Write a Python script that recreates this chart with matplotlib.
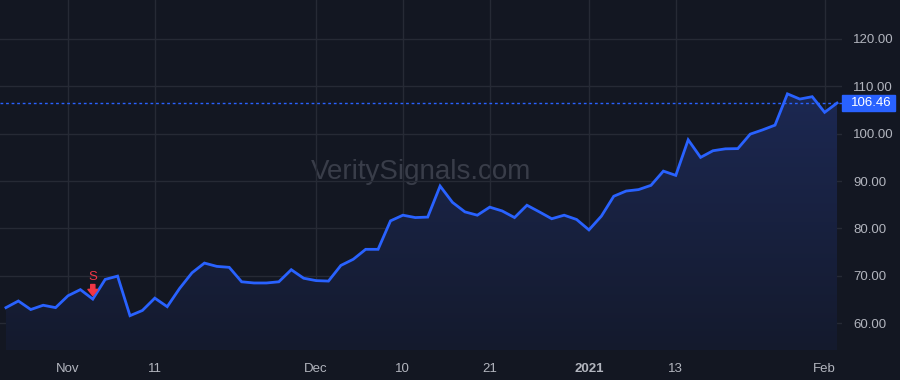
import matplotlib
matplotlib.use("Agg")
import matplotlib.pyplot as plt
import numpy as np
from matplotlib.colors import LinearSegmentedColormap
from matplotlib.patches import Rectangle
from matplotlib.transforms import blended_transform_factory

plt.rcParams['font.family'] = ['Liberation Sans', 'DejaVu Sans']

# daily closes, 2020-10-26 .. 2021-02-02 (trading days)
closes = [
    63.3, 64.7, 62.9, 63.8, 63.3, 65.8, 67.1, 65.1, 69.25, 69.95,
    61.6, 62.7, 65.3, 63.5, 67.35, 70.65, 72.7, 72.0, 71.8, 68.75,
    68.5, 68.5, 68.75, 71.3, 69.5, 69.0, 68.9, 72.2, 73.5, 75.6,
    75.6, 81.6, 82.8, 82.3, 82.4, 88.95, 85.5, 83.5, 82.8, 84.5,
    83.7, 82.3, 84.9, 83.5, 82.05, 82.8, 81.9, 79.7, 82.6, 86.8,
    87.9, 88.2, 89.1, 92.1, 91.2, 98.7, 95.0, 96.4, 96.8, 96.85,
    99.9, 100.8, 101.8, 108.4, 107.3, 107.8, 104.5, 106.46,
]
last_price = 106.46

# x axis labels (index of trading day)
tick_idx = [5, 12, 25, 32, 39, 47, 54, 66]
tick_labels = ['Nov', '11', 'Dec', '10', '21', '2021', '13', 'Feb']
price_ticks = [60, 70, 80, 90, 100, 110, 120]

# sell signal
signal_idx = 7
signal_label = 'S'

bg = '#131722'
blue = '#2962ff'
red = '#f23645'
grid = '#262a35'
txt = '#b2b5be'

x = np.arange(len(closes))
y = np.array(closes)

fig = plt.figure(figsize=(9, 3.8), dpi=100, facecolor=bg)
ax = fig.add_axes([0, 30 / 380, 842 / 900, 350 / 380], facecolor=bg)

xmin, xmax = -0.48, 67.4
ymin, ymax = 54.36, 128.2
ax.set_xlim(xmin, xmax)
ax.set_ylim(ymin, ymax)

# gradient area under the line
cmap = LinearSegmentedColormap.from_list('area', ['#141a2d', '#1c2852'])
grad = np.linspace(0, 1, 256).reshape(-1, 1)
img = ax.imshow(grad, cmap=cmap, origin='lower', aspect='auto',
                extent=[xmin, xmax, ymin, y.max()], zorder=1)
poly = ax.fill_between(x, y, ymin, color='none', lw=0)
clip = poly.get_paths()[0]
img.set_clip_path(clip, transform=ax.transData)

ax.plot(x, y, color=blue, lw=2, zorder=3, solid_joinstyle='miter')

# last price line
ax.axhline(last_price, color=blue, lw=1, ls=(0, (2, 2)), zorder=2)

# grid
ax.set_xticks(tick_idx)
ax.set_yticks(price_ticks)
ax.grid(True, color=grid, lw=1)
ax.set_axisbelow(True)
for s in ax.spines.values():
    s.set_visible(False)

ax.yaxis.tick_right()
ax.set_yticklabels([f'{v:.2f}' for v in price_ticks])
ax.tick_params(axis='y', length=0, pad=8, labelsize=9.5, labelcolor=txt)
ax.set_xticklabels(tick_labels)
ax.tick_params(axis='x', length=0, pad=9, labelsize=9.5, labelcolor=txt)
for lab in ax.get_xticklabels():
    if lab.get_text() == '2021':
        lab.set_fontweight('bold')

# price label on the axis
tr = blended_transform_factory(fig.transFigure, ax.transData)
box_h = 16 / 350 * (ymax - ymin)
ax.add_patch(Rectangle((842 / 900, last_price - box_h / 2), 53 / 900, box_h,
                       transform=tr, color=blue, clip_on=False, zorder=5))
ax.text(851 / 900, last_price, f'{last_price:.2f}', transform=tr, color='white',
        fontsize=9.5, va='center', ha='left', zorder=6)

# sell marker
ax.annotate('', xy=(signal_idx, closes[signal_idx]), xycoords='data',
            xytext=(0, 10.5), textcoords='offset points',
            arrowprops=dict(arrowstyle='simple,head_length=0.45,head_width=0.7,tail_width=0.3',
                            color=red, shrinkA=0, shrinkB=2.5, mutation_scale=10),
            zorder=6)
ax.annotate(signal_label, xy=(signal_idx, closes[signal_idx]), xycoords='data',
            xytext=(0, 16), textcoords='offset points', color=red,
            fontsize=9.5, ha='center', va='center', zorder=6)

# watermark
ax.text(421 / 900, 1 - 172 / 380, 'VeritySignals.com', transform=fig.transFigure,
        color='#393d49', fontsize=20, ha='center', va='center', zorder=0.5)

fig.savefig('out.png', dpi=100, facecolor=bg)
